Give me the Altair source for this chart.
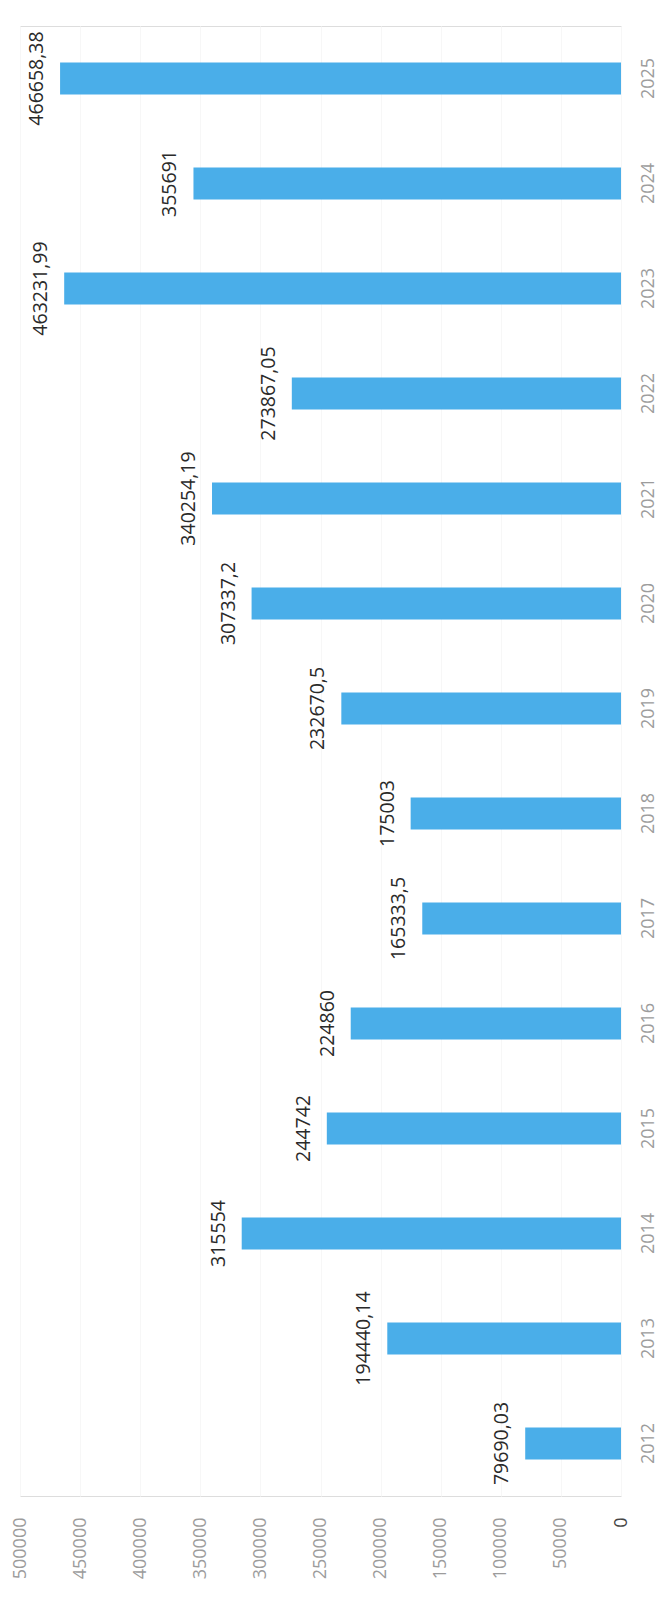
import altair as alt
import pandas as pd

years = ["2012", "2013", "2014", "2015", "2016", "2017", "2018",
         "2019", "2020", "2021", "2022", "2023", "2024", "2025"]
values = [79690.03, 194440.14, 315554, 244742, 224860, 165333.5, 175003,
          232670.5, 307337.2, 340254.19, 273867.05, 463231.99, 355691, 466658.38]
labels = ["79690,03", "194440,14", "315554", "244742", "224860", "165333,5", "175003",
          "232670,5", "307337,2", "340254,19", "273867,05", "463231,99", "355691", "466658,38"]
x_ticks = [0, 50000, 100000, 150000, 200000, 250000, 300000, 350000, 400000, 450000, 500000]

df = pd.DataFrame({"year": years, "value": values, "label": labels})

FONT = "Open Sans"

x_enc = alt.X(
    "value:Q",
    scale=alt.Scale(domain=[0, 500000], reverse=True, nice=False, zero=True),
    axis=alt.Axis(
        values=x_ticks, title=None, labelAngle=270, labelAlign="right",
        labelBaseline="middle", labelPadding=21, ticks=False, domain=False,
        grid=True, gridColor="#f7f7f7", labelFontSize=18, labelFont=FONT,
        labelColor={"condition": {"test": "datum.value === 0", "value": "#444444"},
                    "value": "#9c9c9c"},
        format="d", labelOverlap=False,
    ),
)
y_enc = alt.Y(
    "year:O",
    sort="descending",
    scale=alt.Scale(paddingInner=0.696, paddingOuter=0.348),
    axis=alt.Axis(
        orient="right", title=None, labelAngle=270, labelAlign="center",
        labelBaseline="top", labelPadding=18, ticks=False, domain=False,
        grid=False, labelFontSize=18, labelFont=FONT, labelColor="#9c9c9c",
    ),
)

bars = alt.Chart(df).mark_bar(color="#4aaee9").encode(x=x_enc, y=y_enc)

text = alt.Chart(df).mark_text(
    angle=270, align="center", baseline="alphabetic", dy=-17,
    font=FONT, fontSize=19.5, color="#2a2a2a",
).encode(
    x=alt.X("value:Q", scale=alt.Scale(domain=[0, 500000], reverse=True, nice=False)),
    y=alt.Y("year:O", sort="descending"),
    text="label:N",
)

chart = (
    alt.layer(bars, text)
    .properties(
        width=601, height=1470,
        autosize=alt.AutoSizeParams(type="none"),
        padding={"left": 12, "top": 18, "right": 39, "bottom": 85},
    )
    .configure_view(strokeWidth=0)
    .configure(background="white")
)

chart.save("out.html", embed_options={"renderer": "svg", "actions": False})
